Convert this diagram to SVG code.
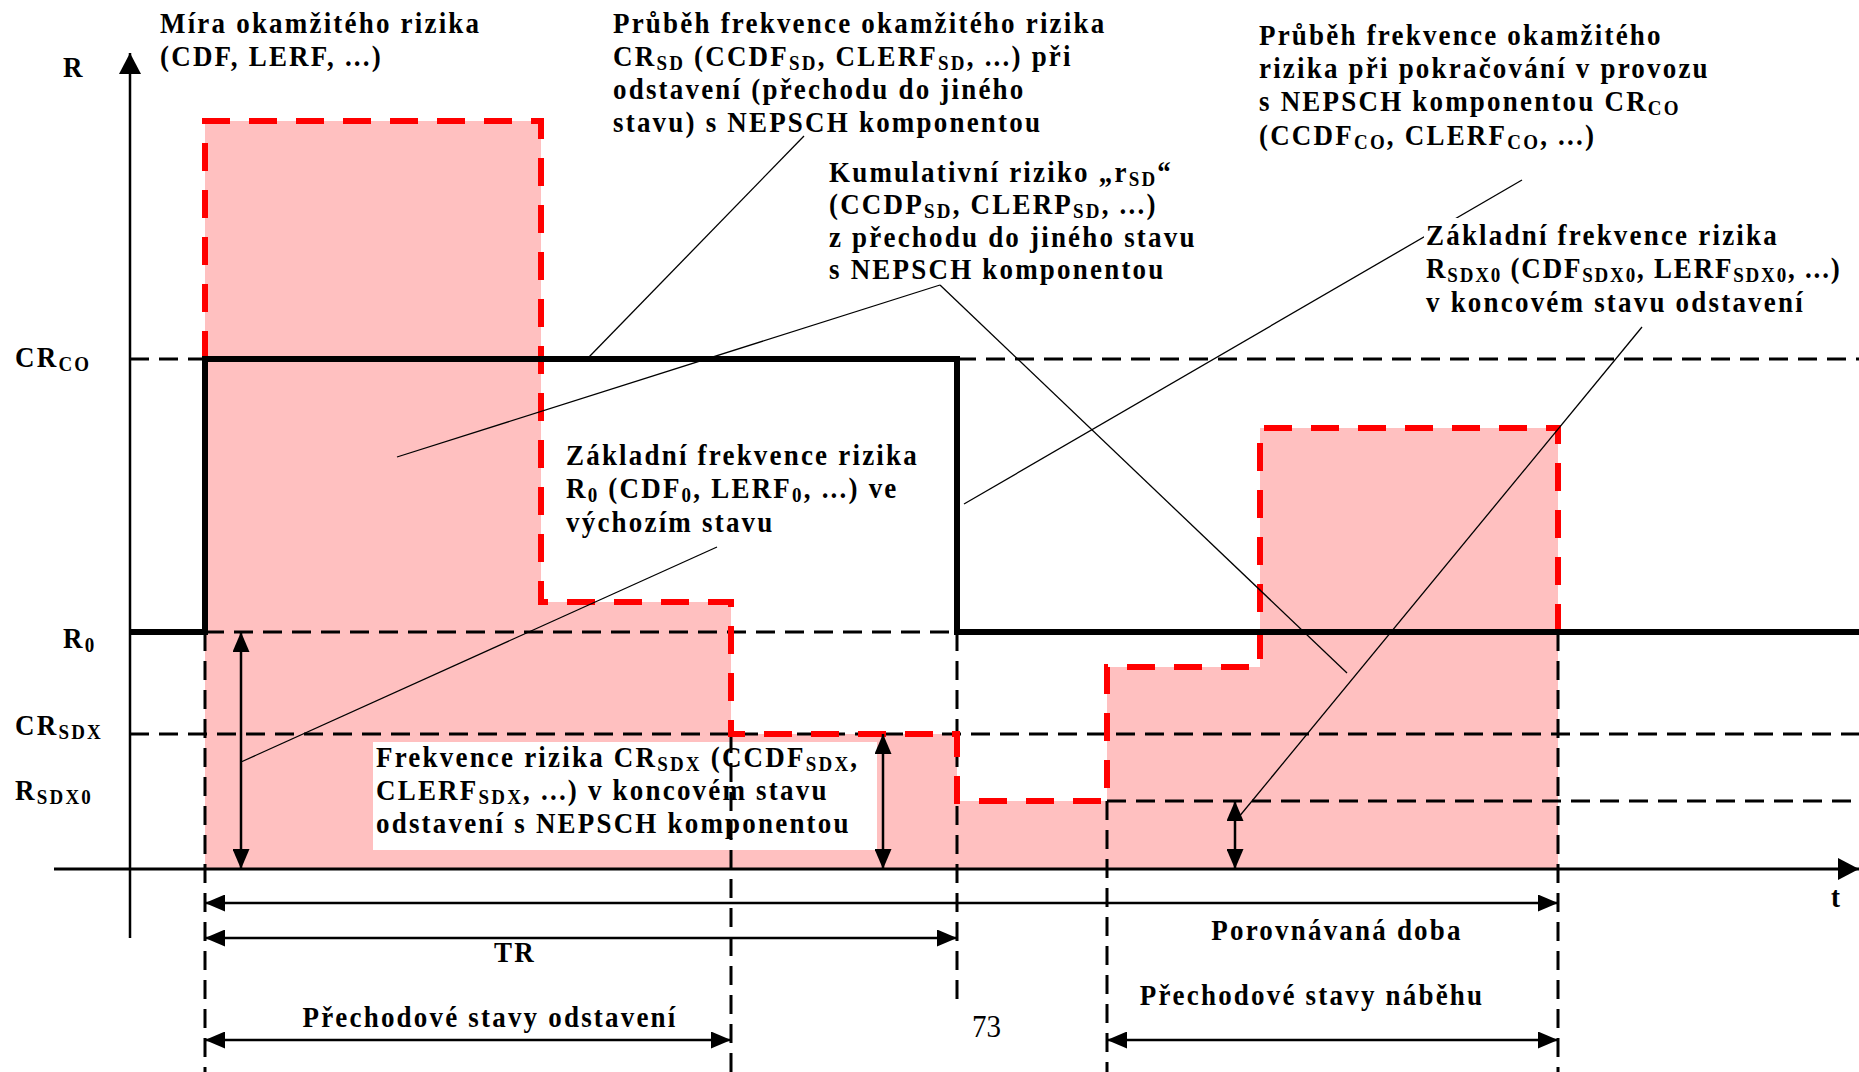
<svg xmlns="http://www.w3.org/2000/svg" width="1859" height="1072" viewBox="0 0 1859 1072">
<style>
.t{font-family:"Liberation Serif","Times New Roman",serif;font-weight:bold;font-size:27px;letter-spacing:2.2px;fill:#000}
.s{font-size:19px}
.n{font-family:"Liberation Serif","Times New Roman",serif;font-size:29px;fill:#000}
.dash{fill:none;stroke:#000;stroke-width:3;stroke-dasharray:19 10}
.red{fill:none;stroke:#FF0000;stroke-width:6;stroke-dasharray:28 19}
.solid{fill:none;stroke:#000;stroke-width:6}
.lead{fill:none;stroke:#000;stroke-width:1.3}
.arr{fill:none;stroke:#000;stroke-width:2.5;marker-start:url(#ah);marker-end:url(#ah)}
.box{fill:#fff}
</style>
<defs>
<marker id="ah" markerUnits="userSpaceOnUse" markerWidth="20" markerHeight="17" refX="20" refY="8.5" orient="auto-start-reverse">
<path d="M0,0 L20,8.5 L0,17 Z" fill="#000"/>
</marker>
<marker id="ax" markerUnits="userSpaceOnUse" markerWidth="21" markerHeight="22" refX="21" refY="11" orient="auto">
<path d="M0,0 L21,11 L0,22 Z" fill="#000"/>
</marker>
</defs>
<rect width="1859" height="1072" fill="#fff"/>

<g id="risk-area">
<polygon points="205,869 205,121 541,121 541,602 731,602 731,734 957,734 957,801 1107,801 1107,667 1260,667 1260,428 1558,428 1558,869" fill="#FFC0C0"/>
</g>

<g id="label-crsdx-box">
<rect class="box" x="373" y="742" width="504" height="108"/>
</g>

<g id="grid">
<line class="dash" x1="130" y1="359" x2="205" y2="359"/>
<line class="dash" x1="957" y1="359" x2="1859" y2="359"/>
<line class="dash" x1="205" y1="632" x2="957" y2="632"/>
<line class="dash" x1="130" y1="734" x2="1859" y2="734"/>
<line class="dash" x1="1107" y1="801" x2="1859" y2="801"/>
<line class="dash" x1="205" y1="632" x2="205" y2="1072"/>
<line class="dash" x1="731" y1="734" x2="731" y2="1072"/>
<line class="dash" x1="957" y1="632" x2="957" y2="1004"/>
<line class="dash" x1="1107" y1="801" x2="1107" y2="1072"/>
<line class="dash" x1="1558" y1="632" x2="1558" y2="1072"/>
</g>

<g id="curve-sd">
<path class="red" d="M205,359 L205,121 L541,121 L541,602 L731,602 L731,734 L957,734 L957,801 L1107,801 L1107,667 L1260,667 L1260,428 L1558,428 L1558,632"/>
</g>

<g id="curve-co">
<path class="solid" d="M130,632 L205,632 L205,359 L957,359 L957,632 L1859,632"/>
</g>

<g id="axes">
<line x1="130" y1="938" x2="130" y2="53" stroke="#000" stroke-width="2.5" marker-end="url(#ax)"/>
<line x1="54" y1="869" x2="1859" y2="869" stroke="#000" stroke-width="3" marker-end="url(#ax)"/>
</g>

<g id="connectors">
<line class="arr" x1="241" y1="632" x2="241" y2="869"/>
<line class="arr" x1="883" y1="734" x2="883" y2="869"/>
<line class="arr" x1="1235" y1="801" x2="1235" y2="869"/>
<line class="arr" x1="205" y1="903" x2="1558" y2="903"/>
<line class="arr" x1="205" y1="938" x2="957" y2="938"/>
<line class="arr" x1="205" y1="1040" x2="731" y2="1040"/>
<line class="arr" x1="1107" y1="1040" x2="1558" y2="1040"/>
<line class="lead" x1="804" y1="136" x2="589" y2="357"/>
<line class="lead" x1="940" y1="285" x2="397" y2="457"/>
<line class="lead" x1="940" y1="285" x2="1347" y2="673"/>
<line class="lead" x1="1522" y1="180" x2="964" y2="504"/>
<line class="lead" x1="1642" y1="327" x2="1238" y2="818"/>
<line class="lead" x1="717" y1="547" x2="241" y2="762"/>
</g>

<g id="axis-labels">
<text class="t" x="63" y="77" transform="matrix(1 0 0 1.1 0 -7.7)">R</text>
<text class="t" x="15" y="367" transform="matrix(1 0 0 1.1 0 -36.7)">CR<tspan class="s" dy="4">CO</tspan></text>
<text class="t" x="63" y="648" transform="matrix(1 0 0 1.1 0 -64.8)">R<tspan class="s" dy="4">0</tspan></text>
<text class="t" x="15" y="735" transform="matrix(1 0 0 1.1 0 -73.5)">CR<tspan class="s" dy="4">SDX</tspan></text>
<text class="t" x="15" y="800" transform="matrix(1 0 0 1.1 0 -80)">R<tspan class="s" dy="4">SDX0</tspan></text>
<text class="t" x="1831" y="907" transform="matrix(1 0 0 1.1 0 -90.7)">t</text>
</g>

<g id="label-measure">
<text class="t" x="160" y="33" transform="matrix(1 0 0 1.1 0 -3.3)">Míra okamžitého rizika</text>
<text class="t" x="160" y="66" transform="matrix(1 0 0 1.1 0 -6.6)">(CDF, LERF, ...)</text>
</g>

<g id="label-crsd">
<text class="t" x="613" y="33" transform="matrix(1 0 0 1.1 0 -3.3)">Průběh frekvence okamžitého rizika</text>
<text class="t" x="613" y="66" transform="matrix(1 0 0 1.1 0 -6.6)">CR<tspan class="s" dy="4">SD</tspan><tspan dy="-4"> (CCDF</tspan><tspan class="s" dy="4">SD</tspan><tspan dy="-4">, CLERF</tspan><tspan class="s" dy="4">SD</tspan><tspan dy="-4">, ...) při</tspan></text>
<text class="t" x="613" y="99" transform="matrix(1 0 0 1.1 0 -9.9)">odstavení (přechodu do jiného</text>
<text class="t" x="613" y="132" transform="matrix(1 0 0 1.1 0 -13.2)">stavu) s NEPSCH komponentou</text>
</g>

<g id="label-cumulative">
<text class="t" x="829" y="182" transform="matrix(1 0 0 1.1 0 -18.2)">Kumulativní riziko „r<tspan class="s" dy="4">SD</tspan><tspan dy="-4">“</tspan></text>
<text class="t" x="829" y="214" transform="matrix(1 0 0 1.1 0 -21.4)">(CCDP<tspan class="s" dy="4">SD</tspan><tspan dy="-4">, CLERP</tspan><tspan class="s" dy="4">SD</tspan><tspan dy="-4">, ...)</tspan></text>
<text class="t" x="829" y="247" transform="matrix(1 0 0 1.1 0 -24.7)">z přechodu do jiného stavu</text>
<text class="t" x="829" y="279" transform="matrix(1 0 0 1.1 0 -27.9)">s NEPSCH komponentou</text>
</g>

<g id="label-crco">
<text class="t" x="1259" y="45" transform="matrix(1 0 0 1.1 0 -4.5)">Průběh frekvence okamžitého</text>
<text class="t" x="1259" y="78" transform="matrix(1 0 0 1.1 0 -7.8)">rizika při pokračování v provozu</text>
<text class="t" x="1259" y="111" transform="matrix(1 0 0 1.1 0 -11.1)">s NEPSCH komponentou CR<tspan class="s" dy="4">CO</tspan></text>
<text class="t" x="1259" y="145" transform="matrix(1 0 0 1.1 0 -14.5)">(CCDF<tspan class="s" dy="4">CO</tspan><tspan dy="-4">, CLERF</tspan><tspan class="s" dy="4">CO</tspan><tspan dy="-4">, ...)</tspan></text>
</g>

<g id="label-rsdx0">
<rect class="box" x="1424" y="218" width="430" height="104"/>
<text class="t" x="1426" y="245" transform="matrix(1 0 0 1.1 0 -24.5)">Základní frekvence rizika</text>
<text class="t" x="1426" y="278" style="letter-spacing:1.8px" transform="matrix(1 0 0 1.1 0 -27.8)">R<tspan class="s" dy="4">SDX0</tspan><tspan dy="-4"> (CDF</tspan><tspan class="s" dy="4">SDX0</tspan><tspan dy="-4">, LERF</tspan><tspan class="s" dy="4">SDX0</tspan><tspan dy="-4">, ...)</tspan></text>
<text class="t" x="1426" y="312" transform="matrix(1 0 0 1.1 0 -31.2)">v koncovém stavu odstavení</text>
</g>

<g id="label-r0">
<text class="t" x="566" y="465" transform="matrix(1 0 0 1.1 0 -46.5)">Základní frekvence rizika</text>
<text class="t" x="566" y="498" transform="matrix(1 0 0 1.1 0 -49.8)">R<tspan class="s" dy="4">0</tspan><tspan dy="-4"> (CDF</tspan><tspan class="s" dy="4">0</tspan><tspan dy="-4">, LERF</tspan><tspan class="s" dy="4">0</tspan><tspan dy="-4">, ...) ve</tspan></text>
<text class="t" x="566" y="532" transform="matrix(1 0 0 1.1 0 -53.2)">výchozím stavu</text>
</g>

<g id="label-crsdx">
<text class="t" x="376" y="767" transform="matrix(1 0 0 1.1 0 -76.7)">Frekvence rizika CR<tspan class="s" dy="4">SDX</tspan><tspan dy="-4"> (CCDF</tspan><tspan class="s" dy="4">SDX</tspan><tspan dy="-4">,</tspan></text>
<text class="t" x="376" y="800" transform="matrix(1 0 0 1.1 0 -80)">CLERF<tspan class="s" dy="4">SDX</tspan><tspan dy="-4">, ...) v koncovém stavu</tspan></text>
<text class="t" x="376" y="833" transform="matrix(1 0 0 1.1 0 -83.3)">odstavení s NEPSCH komponentou</text>
</g>

<g id="label-periods">
<text class="t" x="1337" y="940" text-anchor="middle" transform="matrix(1 0 0 1.1 0 -94)">Porovnávaná doba</text>
<text class="t" x="515" y="962" text-anchor="middle" transform="matrix(1 0 0 1.1 0 -96.2)">TR</text>
<text class="t" x="1312" y="1005" text-anchor="middle" transform="matrix(1 0 0 1.1 0 -100.5)">Přechodové stavy náběhu</text>
<text class="t" x="490" y="1027" text-anchor="middle" transform="matrix(1 0 0 1.1 0 -102.7)">Přechodové stavy odstavení</text>
</g>

<g id="page-number">
<text class="n" x="972" y="1037" transform="matrix(1 0 0 1.1 0 -103.7)">73</text>
</g>
</svg>
